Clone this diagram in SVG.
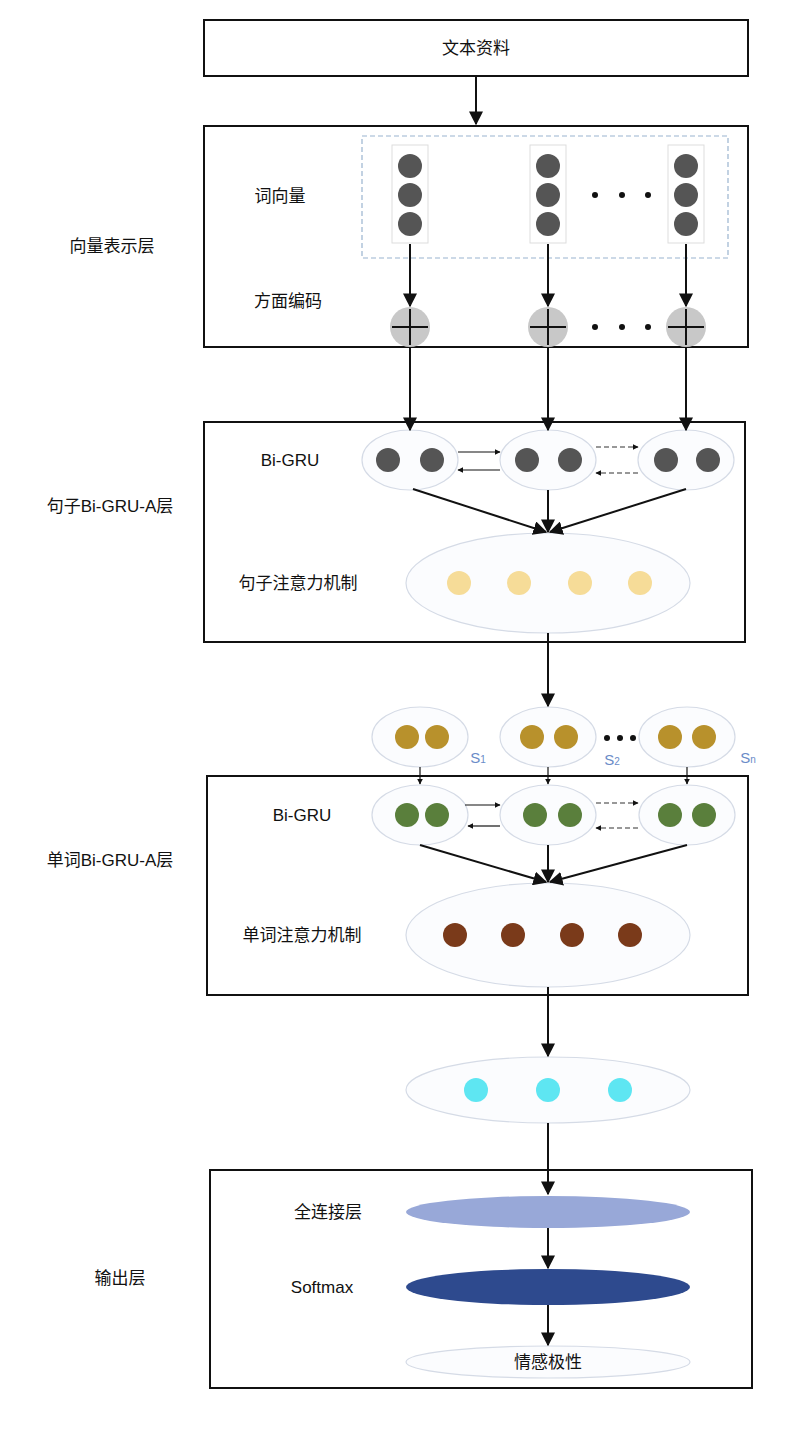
<svg xmlns="http://www.w3.org/2000/svg" width="810" height="1438" viewBox="0 0 810 1438">
<defs>
<marker id="ah" viewBox="0 0 10 10" refX="9" refY="5" markerWidth="7" markerHeight="7" orient="auto"><path d="M0,0 L10,5 L0,10 z" fill="#111"/></marker>
<marker id="as" viewBox="0 0 10 10" refX="9" refY="5" markerWidth="5" markerHeight="5" orient="auto"><path d="M0,0 L10,5 L0,10 z" fill="#111"/></marker>
</defs>
<style>
text{font-family:"Liberation Sans","Noto Sans CJK SC",sans-serif;font-size:17px;fill:#111;text-anchor:middle;dominant-baseline:central}
.box{fill:#fff;stroke:#111;stroke-width:2}
.ell{fill:#fbfcfe;stroke:#d5dbe6;stroke-width:1.2}
.a{stroke:#111;stroke-width:2;fill:none;marker-end:url(#ah)}
.t{stroke:#111;stroke-width:1.2;fill:none;marker-end:url(#as)}
.d{stroke:#333;stroke-width:1.2;fill:none;stroke-dasharray:5,3;marker-end:url(#as)}
.g{fill:#555}.y{fill:#f6dc98}.o{fill:#b8912c}.gr{fill:#5a7f3c}.br{fill:#7a3a1a}.c{fill:#5ee6f2}
text.s{fill:#6a8cc8;font-size:15px;dominant-baseline:auto}
</style>
<g id="n-text"><rect class="box" x="204" y="20" width="544" height="56"/><text x="476" y="48">文本资料</text></g>
<g id="n-vec">
<rect class="box" x="204" y="126" width="544" height="221"/>
<rect x="362" y="136" width="366" height="122" fill="none" stroke="#9ab4cf" stroke-width="1.2" stroke-dasharray="5,3"/>
<rect x="392" y="145" width="36" height="98" fill="#fff" stroke="#ddd"/>
<rect x="530" y="145" width="36" height="98" fill="#fff" stroke="#ddd"/>
<rect x="668" y="145" width="36" height="98" fill="#fff" stroke="#ddd"/>
<circle class="g" cx="410" cy="166" r="12"/><circle class="g" cx="410" cy="195" r="12"/><circle class="g" cx="410" cy="224" r="12"/>
<circle class="g" cx="548" cy="166" r="12"/><circle class="g" cx="548" cy="195" r="12"/><circle class="g" cx="548" cy="224" r="12"/>
<circle class="g" cx="686" cy="166" r="12"/><circle class="g" cx="686" cy="195" r="12"/><circle class="g" cx="686" cy="224" r="12"/>
<circle cx="595" cy="195" r="3" fill="#111"/><circle cx="622" cy="195" r="3" fill="#111"/><circle cx="648" cy="195" r="3" fill="#111"/>
<text x="280" y="196">词向量</text><text x="288" y="301">方面编码</text>
<g fill="#c8c8c8"><circle cx="410" cy="327" r="20"/><circle cx="548" cy="327" r="20"/><circle cx="686" cy="327" r="20"/></g>
<g stroke="#111" stroke-width="2"><path d="M392,327h36M410,309v36M530,327h36M548,309v36M668,327h36M686,309v36"/></g>
<circle cx="595" cy="327" r="3" fill="#111"/><circle cx="622" cy="327" r="3" fill="#111"/><circle cx="648" cy="327" r="3" fill="#111"/>
</g>
<text x="112" y="246">向量表示层</text>
<g id="n-sent">
<rect class="box" x="204" y="422" width="541" height="220"/>
<text x="290" y="460">Bi-GRU</text>
<ellipse class="ell" cx="410" cy="460" rx="48" ry="30"/><ellipse class="ell" cx="548" cy="460" rx="48" ry="30"/><ellipse class="ell" cx="686" cy="460" rx="48" ry="30"/>
<circle class="g" cx="388" cy="460" r="12"/><circle class="g" cx="432" cy="460" r="12"/>
<circle class="g" cx="527" cy="460" r="12"/><circle class="g" cx="570" cy="460" r="12"/>
<circle class="g" cx="666" cy="460" r="12"/><circle class="g" cx="708" cy="460" r="12"/>
<ellipse class="ell" cx="548" cy="583" rx="142" ry="50"/>
<circle class="y" cx="459" cy="583" r="12"/><circle class="y" cx="519" cy="583" r="12"/><circle class="y" cx="580" cy="583" r="12"/><circle class="y" cx="640" cy="583" r="12"/>
<text x="298" y="583">句子注意力机制</text>
</g>
<text x="110" y="506">句子Bi-GRU-A层</text>
<g id="n-s">
<ellipse class="ell" cx="420" cy="737" rx="48" ry="30"/><ellipse class="ell" cx="548" cy="737" rx="48" ry="30"/><ellipse class="ell" cx="687" cy="737" rx="48" ry="30"/>
<circle class="o" cx="407" cy="737" r="12"/><circle class="o" cx="437" cy="737" r="12"/>
<circle class="o" cx="532" cy="737" r="12"/><circle class="o" cx="566" cy="737" r="12"/>
<circle class="o" cx="670" cy="737" r="12"/><circle class="o" cx="704" cy="737" r="12"/>
<circle cx="607" cy="738" r="3" fill="#111"/><circle cx="620" cy="738" r="3" fill="#111"/><circle cx="633" cy="738" r="3" fill="#111"/>
<text class="s" x="478" y="763">S<tspan font-size="10">1</tspan></text>
<text class="s" x="612" y="765">S<tspan font-size="10">2</tspan></text>
<text class="s" x="748" y="763">S<tspan font-size="10">n</tspan></text>
</g>
<g id="n-word">
<rect class="box" x="207" y="776" width="541" height="219"/>
<text x="302" y="815">Bi-GRU</text>
<ellipse class="ell" cx="420" cy="815" rx="48" ry="30"/><ellipse class="ell" cx="548" cy="815" rx="48" ry="30"/><ellipse class="ell" cx="687" cy="815" rx="48" ry="30"/>
<circle class="gr" cx="407" cy="815" r="12"/><circle class="gr" cx="437" cy="815" r="12"/>
<circle class="gr" cx="535" cy="815" r="12"/><circle class="gr" cx="570" cy="815" r="12"/>
<circle class="gr" cx="670" cy="815" r="12"/><circle class="gr" cx="704" cy="815" r="12"/>
<ellipse class="ell" cx="548" cy="935" rx="142" ry="52"/>
<circle class="br" cx="455" cy="935" r="12"/><circle class="br" cx="513" cy="935" r="12"/><circle class="br" cx="572" cy="935" r="12"/><circle class="br" cx="630" cy="935" r="12"/>
<text x="302" y="935">单词注意力机制</text>
</g>
<text x="110" y="860">单词Bi-GRU-A层</text>
<g id="n-doc">
<ellipse class="ell" cx="548" cy="1090" rx="142" ry="33"/>
<circle class="c" cx="476" cy="1090" r="12"/><circle class="c" cx="548" cy="1090" r="12"/><circle class="c" cx="620" cy="1090" r="12"/>
</g>
<g id="n-out">
<rect class="box" x="210" y="1170" width="542" height="218"/>
<ellipse cx="548" cy="1212" rx="142" ry="16" fill="#98a8d8"/>
<ellipse cx="548" cy="1287" rx="142" ry="18" fill="#2e4a8e"/>
<ellipse class="ell" cx="548" cy="1362" rx="142" ry="16"/>
<text x="328" y="1212">全连接层</text><text x="322" y="1287">Softmax</text><text x="548" y="1362">情感极性</text>
</g>
<text x="120" y="1278">输出层</text>
<g id="connectors">
<path class="a" d="M476,76V124"/>
<path class="a" d="M410,244V306"/><path class="a" d="M548,244V306"/><path class="a" d="M686,244V306"/>
<path class="a" d="M410,347V430"/><path class="a" d="M548,347V430"/><path class="a" d="M686,347V430"/>
<path class="t" d="M458,452H500"/><path class="t" d="M500,470H458"/>
<path class="d" d="M596,447H638"/><path class="d" d="M638,473H596"/>
<path class="a" d="M413,489L546,532"/><path class="a" d="M548,490V532"/><path class="a" d="M686,489L550,532"/>
<path class="a" d="M548,633V706"/>
<path class="t" d="M420,767V784"/><path class="t" d="M548,767V784"/><path class="t" d="M687,767V784"/>
<path class="t" d="M465,805H500"/><path class="t" d="M500,826H468"/>
<path class="d" d="M596,803H638"/><path class="d" d="M638,828H596"/>
<path class="a" d="M420,845L546,882"/><path class="a" d="M548,845V882"/><path class="a" d="M687,845L550,882"/>
<path class="a" d="M548,987V1056"/>
<path class="a" d="M548,1123V1194"/>
<path class="a" d="M548,1228V1268"/>
<path class="a" d="M548,1305V1345"/>
</g>
</svg>
